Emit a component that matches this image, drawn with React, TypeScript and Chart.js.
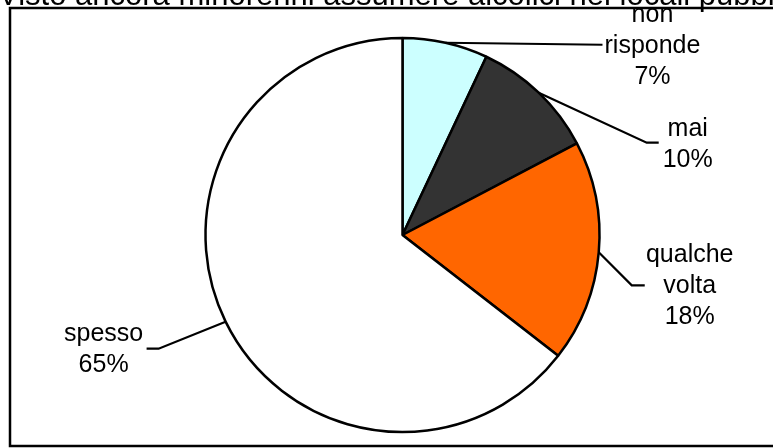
import React, { useEffect, useRef } from "react";
import { Chart, registerables } from "chart.js";

Chart.register(...registerables);

const title = "Visto ancora minorenni assumere alcolici nei locali pubblici";
const categories = ["non risponde", "mai", "qualche volta", "spesso"];
const values = [7.0, 10.3, 18.2, 64.5];
const colors = ["#CCFFFF", "#333333", "#FF6600", "#FFFFFF"];

// leader/label layout offsets relative to arc anchor (layout only)
const labelLayout = [
  { elbow: [157, 2], end: [157, 2], text: [207, 1] },
  { elbow: [108, 50], end: [120, 50], text: [149, 50] },
  { elbow: [33, 33], end: [46, 33], text: [91, 32] },
  { elbow: [-67, 27], end: [-79, 27], text: [-122, 25.5] },
];

const FONT = '"Liberation Sans", Arial, sans-serif';

const overlayPlugin = {
  id: "overlay",
  afterDraw(chart: any) {
    const ctx = chart.ctx as CanvasRenderingContext2D;
    ctx.save();
    // frame
    ctx.strokeStyle = "#000";
    ctx.lineWidth = 2.5;
    ctx.strokeRect(10, 8, 800, 438);
    // title
    ctx.fillStyle = "#000";
    ctx.font = `31px ${FONT}`;
    ctx.textAlign = "center";
    ctx.textBaseline = "alphabetic";
    ctx.fillText(title, 401, 5);
    // labels
    const meta = chart.getDatasetMeta(0);
    const total = values.reduce((a, b) => a + b, 0);
    ctx.font = `25px ${FONT}`;
    meta.data.forEach((arc: any, i: number) => {
      const mid = (arc.startAngle + arc.endAngle) / 2;
      const ax = arc.x + Math.cos(mid) * arc.outerRadius;
      const ay = arc.y + Math.sin(mid) * arc.outerRadius;
      const L = labelLayout[i];
      ctx.beginPath();
      ctx.lineWidth = 2.2;
      ctx.moveTo(ax, ay);
      ctx.lineTo(ax + L.elbow[0], ay + L.elbow[1]);
      ctx.lineTo(ax + L.end[0], ay + L.end[1]);
      ctx.stroke();
      const lines = categories[i].split(" ");
      lines.push(Math.round((values[i] / total) * 100) + "%");
      const pitch = 31;
      const cx = ax + L.text[0];
      const cy = ay + L.text[1];
      const n = lines.length;
      lines.forEach((t, k) => {
        const by = cy + (k - (n - 1) / 2) * pitch + 9;
        ctx.fillText(t, cx, by);
      });
    });
    ctx.restore();
  },
};

export default function App() {
  const ref = useRef<HTMLCanvasElement>(null);
  useEffect(() => {
    document.body.style.margin = "0";
    const chart = new Chart(ref.current!, {
      type: "pie",
      data: {
        labels: categories,
        datasets: [
          {
            data: values,
            backgroundColor: colors,
            borderColor: "#000",
            borderWidth: 2.5,
          },
        ],
      },
      options: {
        responsive: false,
        animation: false,
        layout: { padding: { left: 204.25, right: 172.25, top: 36.75, bottom: 14.75 } },
        plugins: {
          legend: { display: false },
          tooltip: { enabled: false },
          title: { display: false },
        },
      },
      plugins: [overlayPlugin],
    });
    return () => chart.destroy();
  }, []);
  return (
    <div style={{ position: "absolute", left: 0, top: 0, width: 773, height: 448, background: "#fff" }}>
      <canvas ref={ref} width={773} height={448} />
    </div>
  );
}
